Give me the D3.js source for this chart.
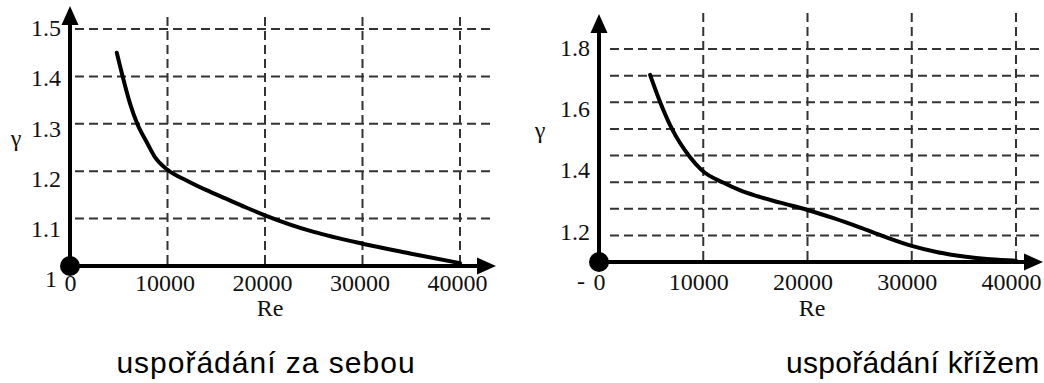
<!DOCTYPE html>
<html lang="cs">
<head>
<meta charset="utf-8">
<title>gamma vs Re</title>
<style>
  body { margin: 0; background: #fff; }
  svg { display: block; }
  .tick text, .lbl {
    font-family: "Liberation Serif", "Times New Roman", serif;
    font-size: 24px;
    fill: #111;
  }
  .caption {
    font-family: "Liberation Sans", Arial, sans-serif;
    font-size: 30px;
    fill: #000;
  }
  .grid line {
    stroke: #333;
    stroke-width: 2;
    stroke-dasharray: 9,5;
  }
</style>
</head>
<body>
<script src="https://cdn.jsdelivr.net/npm/d3@7"></script>
<script>
// values
var xTicks = [0, 10000, 20000, 30000, 40000];
var xGrid = [10000, 20000, 30000, 40000];

// left panel: "za sebou"
var leftRe    = [4800, 5400, 6200, 6900, 7900, 8700, 10000, 12000, 14000, 16000, 18000, 20000, 22500, 25000, 30000, 35000, 40000];
var leftGamma = [1.45, 1.40, 1.34, 1.30, 1.26, 1.23, 1.203, 1.180, 1.160, 1.142, 1.124, 1.107, 1.088, 1.072, 1.047, 1.026, 1.006];
var leftYTicks = [1.0, 1.1, 1.2, 1.3, 1.4, 1.5];
var leftYGrid = [1.1, 1.2, 1.3, 1.4, 1.5];

// right panel: "krizem"
var rightRe    = [4900, 5850, 7050, 8700, 9850, 11900, 13500, 15000, 17400, 20000, 22500, 25000, 27500, 30000, 32500, 35000, 37500, 40000];
var rightGamma = [1.715, 1.627, 1.534, 1.446, 1.402, 1.361, 1.336, 1.318, 1.295, 1.271, 1.244, 1.214, 1.182, 1.153, 1.132, 1.118, 1.109, 1.104];
var rightYTicks = [1.2, 1.4, 1.6, 1.8];
// the drawing has 8 equal grid rows between the axis and 1.8
var rightYGrid = [1.1875, 1.275, 1.3625, 1.45, 1.5375, 1.625, 1.7125, 1.8];

var captions = ["uspořádání za sebou", "uspořádání křížem"];

var W = 1044, H = 383;
var svg = d3.select("body").append("svg")
  .attr("width", W)
  .attr("height", H);

function panel(o) {
  var g = svg.append("g");
  var x0 = o.x.range()[0];
  var y0 = o.y.range()[0];

  // dashed grid
  var grid = g.append("g").attr("class", "grid");
  grid.selectAll(".h").data(o.yGrid).enter().append("line")
    .attr("x1", o.gridLeft).attr("x2", o.gridRight)
    .attr("y1", function(d) { return o.y(d); })
    .attr("y2", function(d) { return o.y(d); });
  grid.selectAll(".v").data(xGrid).enter().append("line")
    .attr("x1", function(d) { return o.x(d); })
    .attr("x2", function(d) { return o.x(d); })
    .attr("y1", o.gridTop).attr("y2", y0);

  // curve
  var pts = o.re.map(function(r, i) { return [r, o.gamma[i]]; });
  g.append("path")
    .datum(pts)
    .attr("fill", "none")
    .attr("stroke", "#000")
    .attr("stroke-width", 4)
    .attr("stroke-linecap", "round")
    .attr("d", d3.line()
      .x(function(d) { return o.x(d[0]); })
      .y(function(d) { return o.y(d[1]); })
      .curve(d3.curveMonotoneX));

  // axes with arrows
  g.append("line")
    .attr("x1", x0).attr("x2", o.xTip - 16)
    .attr("y1", y0).attr("y2", y0)
    .attr("stroke", "#000").attr("stroke-width", 4);
  g.append("line")
    .attr("x1", x0).attr("x2", x0)
    .attr("y1", y0).attr("y2", o.yTip + 16)
    .attr("stroke", "#000").attr("stroke-width", 4);
  g.append("path")
    .attr("d", "M" + o.xTip + "," + y0 + "L" + (o.xTip - 19) + "," + (y0 - 8.5) +
               "L" + (o.xTip - 19) + "," + (y0 + 8.5) + "Z");
  g.append("path")
    .attr("d", "M" + x0 + "," + o.yTip + "L" + (x0 - 8.5) + "," + (o.yTip + 19) +
               "L" + (x0 + 8.5) + "," + (o.yTip + 19) + "Z");
  g.append("circle")
    .attr("cx", x0).attr("cy", y0).attr("r", 10)
    .attr("fill", "#000");

  // tick labels (the drawing sets them a little left of the grid lines)
  var xa = g.append("g")
    .attr("transform", "translate(0," + y0 + ")")
    .call(d3.axisBottom(o.x).tickValues(xTicks).tickSize(0).tickPadding(0)
      .tickFormat(d3.format("d")));
  xa.select(".domain").remove();
  xa.selectAll("text")
    .attr("dy", null)
    .attr("y", o.xLabelY - y0)
    .attr("dx", function(d) { return d === 0 ? 0 : o.xShift; });

  var ya = g.append("g")
    .attr("transform", "translate(" + x0 + ",0)")
    .call(d3.axisLeft(o.yLabel).tickValues(o.yTicks).tickSize(0).tickPadding(9)
      .tickFormat(function(d) { return d === 1 ? "1" : d3.format(".1f")(d); }));
  ya.select(".domain").remove();
  ya.selectAll("text")
    .attr("dx", function(d) { return d === 1 ? -4 : 0; });

  g.append("text").attr("class", "lbl")
    .attr("x", o.gammaX).attr("y", o.gammaY)
    .attr("text-anchor", "middle")
    .text("γ");
  g.append("text").attr("class", "lbl")
    .attr("x", o.reX).attr("y", 316)
    .attr("text-anchor", "middle")
    .text("Re");
  return g;
}

// left panel
panel({
  x: d3.scaleLinear().domain([0, 40000]).range([70, 460]),
  y: d3.scaleLinear().domain([1.0, 1.5]).range([266, 29]),
  yLabel: d3.scaleLinear().domain([1.0, 1.5]).range([279, 28]),
  re: leftRe, gamma: leftGamma,
  yTicks: leftYTicks, yGrid: leftYGrid,
  gridLeft: 75, gridRight: 490, gridTop: 17,
  xTip: 496, yTip: 6,
  xShift: -3, xLabelY: 291,
  gammaX: 16, gammaY: 146, reX: 270
});

// right panel
var right = panel({
  x: d3.scaleLinear().domain([0, 40000]).range([599, 1016]),
  y: d3.scaleLinear().domain([1.1, 1.8]).range([262, 49]),
  yLabel: d3.scaleLinear().domain([1.1, 1.8]).range([262, 48]),
  re: rightRe, gamma: rightGamma,
  yTicks: rightYTicks, yGrid: rightYGrid,
  gridLeft: 610, gridRight: 1044, gridTop: 13,
  xTip: 1043, yTip: 14,
  xShift: -5, xLabelY: 290,
  gammaX: 540, gammaY: 138, reX: 812
});
// stray dash left of the origin label
right.append("text").attr("class", "lbl")
  .attr("x", 581).attr("y", 289)
  .attr("text-anchor", "middle")
  .text("-");

// captions
svg.append("text").attr("class", "caption")
  .attr("x", 266).attr("y", 373)
  .attr("text-anchor", "middle")
  .attr("letter-spacing", 1)
  .text(captions[0]);
svg.append("text").attr("class", "caption")
  .attr("x", 786).attr("y", 373)
  .attr("letter-spacing", 0.3)
  .text(captions[1]);
</script>
</body>
</html>
